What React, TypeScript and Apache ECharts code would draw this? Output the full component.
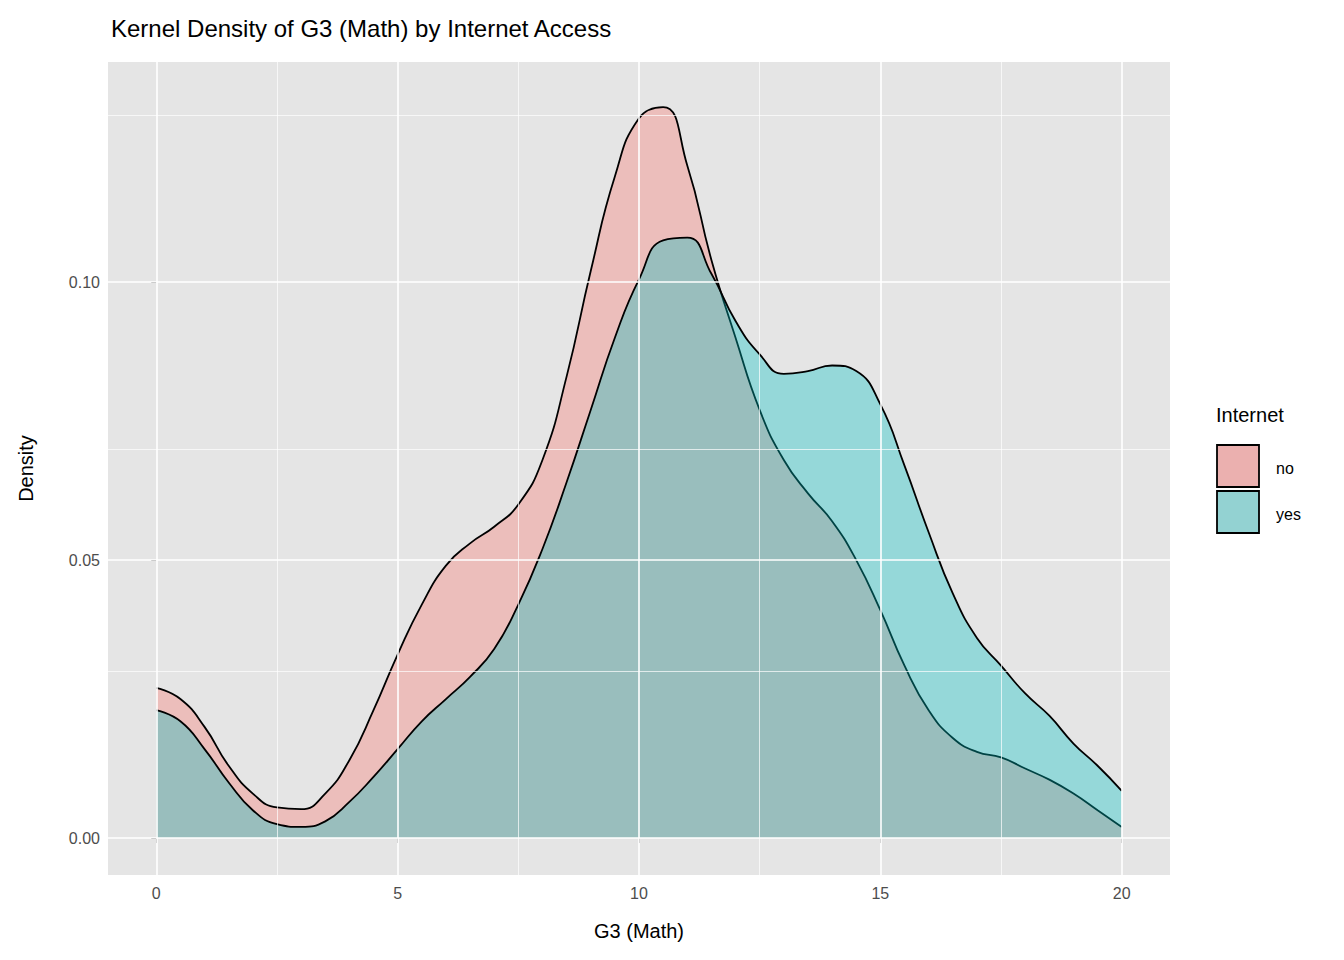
import { useEffect, useRef } from 'react';
import * as echarts from 'echarts';

const xs = [0, 0.5, 1, 1.5, 2, 2.5, 3, 3.5, 4, 4.5, 5, 5.5, 6, 6.5, 7, 7.5, 8, 8.5, 9, 9.5, 10, 10.5, 11, 11.5, 12, 12.5, 13, 13.5, 14, 14.5, 15, 15.5, 16, 16.5, 17, 17.5, 18, 18.5, 19, 19.5, 20];
const noDensity = [0.027, 0.025, 0.02, 0.013, 0.008, 0.0055, 0.0052, 0.008, 0.014, 0.023, 0.033, 0.042, 0.049, 0.053, 0.056, 0.06, 0.068, 0.083, 0.102, 0.119, 0.1295, 0.1315, 0.121, 0.104, 0.09, 0.077, 0.068, 0.062, 0.057, 0.05, 0.041, 0.031, 0.023, 0.018, 0.0155, 0.0145, 0.0125, 0.0105, 0.008, 0.005, 0.002];
const yesDensity = [0.023, 0.021, 0.016, 0.01, 0.005, 0.0025, 0.002, 0.003, 0.0065, 0.011, 0.016, 0.021, 0.025, 0.029, 0.034, 0.042, 0.052, 0.064, 0.077, 0.09, 0.1005, 0.1075, 0.108, 0.1015, 0.093, 0.087, 0.0835, 0.084, 0.085, 0.084, 0.078, 0.067, 0.055, 0.044, 0.036, 0.031, 0.026, 0.022, 0.017, 0.013, 0.0085];
const xMajor = [0, 5, 10, 15, 20];
const xMinor = [2.5, 7.5, 12.5, 17.5];
const yMajor = [0, 0.05, 0.1];
const yMinor = [0.025, 0.075, 0.125];
const yLabels = ['0.00', '0.05', '0.10'];

export default function App() {
  const ref = useRef<HTMLDivElement>(null);

  useEffect(() => {
    if (!ref.current) return;
    const chart = echarts.init(ref.current, null, { renderer: 'svg' });
    const font = 'Liberation Sans, Arial, sans-serif';
    const gridLine = (v: number, axis: 'xAxis' | 'yAxis', w: number) => ({
      [axis]: v,
      lineStyle: { color: '#ffffff', width: w, type: 'solid' },
    });
    chart.setOption({
      animation: false,
      textStyle: { fontFamily: font },
      title: {
        text: 'Kernel Density of G3 (Math) by Internet Access',
        left: 106,
        top: 11,
        textStyle: { fontSize: 24, fontWeight: 'normal', color: '#000', fontFamily: font },
      },
      grid: { left: 108, right: 174, top: 62, bottom: 85, show: true, backgroundColor: '#E5E5E5', borderWidth: 0 },
      xAxis: {
        type: 'value',
        min: -1,
        max: 21,
        name: 'G3 (Math)',
        nameLocation: 'middle',
        nameGap: 46,
        nameTextStyle: { fontSize: 20, color: '#000' },
        axisLine: { show: false },
        splitLine: { show: false },
        axisTick: { show: true, customValues: xMajor, length: 5, lineStyle: { color: '#333' } },
        axisLabel: { customValues: xMajor, fontSize: 16, color: '#4D4D4D', margin: 10 },
      },
      yAxis: {
        type: 'value',
        min: -0.00665,
        max: 0.1396,
        name: 'Density',
        nameLocation: 'middle',
        nameGap: 72,
        nameTextStyle: { fontSize: 20, color: '#000' },
        axisLine: { show: false },
        splitLine: { show: false },
        axisTick: { show: true, customValues: yMajor, length: 5, lineStyle: { color: '#333' } },
        axisLabel: {
          customValues: yMajor,
          fontSize: 16,
          color: '#4D4D4D',
          formatter: (v: number) => yLabels[yMajor.findIndex((m) => Math.abs(m - v) < 1e-6)] ?? '',
        },
      },
      series: [
        {
          type: 'line',
          data: [[0, 0]],
          symbol: 'none',
          lineStyle: { opacity: 0 },
          silent: true,
          z: 0,
          markLine: {
            silent: true,
            symbol: 'none',
            label: { show: false },
            data: [
              ...xMinor.map((v) => gridLine(v, 'xAxis', 0.7)),
              ...yMinor.map((v) => gridLine(v, 'yAxis', 0.7)),
              ...xMajor.map((v) => gridLine(v, 'xAxis', 1.6)),
              ...yMajor.map((v) => gridLine(v, 'yAxis', 1.6)),
            ],
          },
        },
        {
          name: 'no',
          type: 'line',
          smooth: 0.5,
          symbol: 'none',
          data: xs.map((x, i) => [x, noDensity[i]]),
          lineStyle: { color: '#000', width: 1.8 },
          areaStyle: { color: 'rgba(248,118,109,0.5)', origin: 0 },
          z: 2,
        },
        {
          name: 'yes',
          type: 'line',
          smooth: 0.5,
          symbol: 'none',
          data: xs.map((x, i) => [x, yesDensity[i]]),
          lineStyle: { color: '#000', width: 1.8 },
          areaStyle: { color: 'rgba(0,191,196,0.5)', origin: 0 },
          z: 3,
        },
      ],
      graphic: [
        { type: 'text', left: 1216, top: 405, style: { text: 'Internet', fontSize: 20, fill: '#000', fontFamily: font } },
        { type: 'rect', shape: { x: 1217, y: 445, width: 42, height: 42 }, style: { fill: '#EBB0AF', stroke: '#000', lineWidth: 1.8 } },
        { type: 'rect', shape: { x: 1217, y: 491, width: 42, height: 42 }, style: { fill: '#93D2D2', stroke: '#000', lineWidth: 1.8 } },
        { type: 'text', left: 1276, top: 460, style: { text: 'no', fontSize: 16, fill: '#000', fontFamily: font } },
        { type: 'text', left: 1276, top: 506, style: { text: 'yes', fontSize: 16, fill: '#000', fontFamily: font } },
      ],
    });
    return () => chart.dispose();
  }, []);

  return <div ref={ref} style={{ width: 1344, height: 960, position: 'absolute', left: 0, top: 0, background: '#fff' }} />;
}
